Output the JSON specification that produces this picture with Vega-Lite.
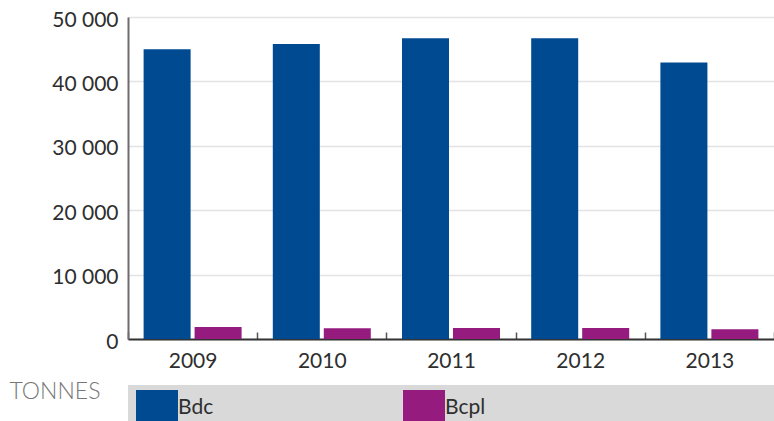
{
  "$schema": "https://vega.github.io/schema/vega-lite/v6.json",
  "padding": {"left": 8, "top": 8, "right": 0, "bottom": 0},
  "autosize": {"type": "pad"},
  "background": "white",
  "config": {
    "locale": {"number": {"decimal": ",", "thousands": " ", "grouping": [3], "currency": ["", " €"]}},
    "font": "Lato",
    "axis": {"labelFont": "Lato", "labelFontSize": 21, "labelFontWeight": 400, "labelColor": "#2e2e2e", "titleFont": "Lato"}
  },
  "bounds": "flush",
  "spacing": 46,
  "resolve": {"scale": {"x": "independent", "y": "independent", "color": "shared"}},
  "datasets": {
    "tonnes": [
      {"year": "2009", "series": "Bdc", "value": 45000},
      {"year": "2009", "series": "Bcpl", "value": 1850},
      {"year": "2010", "series": "Bdc", "value": 45800},
      {"year": "2010", "series": "Bcpl", "value": 1680},
      {"year": "2011", "series": "Bdc", "value": 46700},
      {"year": "2011", "series": "Bcpl", "value": 1700},
      {"year": "2012", "series": "Bdc", "value": 46700},
      {"year": "2012", "series": "Bcpl", "value": 1700},
      {"year": "2013", "series": "Bdc", "value": 42950},
      {"year": "2013", "series": "Bcpl", "value": 1520}
    ]
  },
  "vconcat": [
    {
      "width": 646,
      "height": 322,
      "data": {"name": "tonnes"},
      "mark": {"type": "bar"},
      "encoding": {
        "x": {
          "field": "year", "type": "ordinal",
          "scale": {"paddingInner": 0, "paddingOuter": 0},
          "axis": {
            "title": "TONNES", "titleX": -119, "titleY": 52, "titleAlign": "left", "titleBaseline": "middle", "titleAngle": 0,
            "titleFontSize": 23, "titleFontWeight": 300, "titleColor": "#777777",
            "labelAngle": 0, "labelPadding": 18, "domainColor": "#333333", "domainWidth": 2,
            "tickBand": "extent", "tickSize": -7, "tickColor": "#555555", "tickWidth": 1.5, "grid": false
          }
        },
        "xOffset": {"field": "series", "type": "nominal", "scale": {"domain": ["Bdc", "Bcpl"], "paddingInner": 0.078, "paddingOuter": 0.306}},
        "y": {
          "field": "value", "type": "quantitative", "stack": null,
          "scale": {"domain": [0, 50000], "nice": false},
          "axis": {
            "title": null, "values": [0, 10000, 20000, 30000, 40000, 50000], "format": ",d",
            "domainColor": "#6d6d6d", "domainWidth": 2, "ticks": false, "labelPadding": 10, "labelOffset": 3,
            "grid": true, "gridColor": "#e3e3e3", "gridWidth": 1.5
          }
        },
        "color": {"field": "series", "type": "nominal", "scale": {"domain": ["Bdc", "Bcpl"], "range": ["#004a91", "#961b7f"]}, "legend": null}
      }
    },
    {
      "width": 646,
      "height": 37,
      "view": {"fill": "#d9d9d9", "stroke": null},
      "data": {"name": "tonnes"},
      "transform": [{"aggregate": [{"op": "count", "as": "n"}], "groupby": ["series"]}],
      "encoding": {
        "x": {"field": "series", "type": "nominal", "scale": {"type": "point", "domain": ["Bdc", "Bcpl"], "padding": 0.7097, "align": 0}, "axis": null},
        "color": {"field": "series", "type": "nominal", "scale": {"domain": ["Bdc", "Bcpl"], "range": ["#004a91", "#961b7f"]}, "legend": null}
      },
      "layer": [
        {"mark": {"type": "square", "size": 1764, "opacity": 1, "filled": true, "xOffset": 29, "yOffset": 7.5, "clip": true}},
        {"mark": {"type": "text", "align": "left", "baseline": "middle", "xOffset": 50, "yOffset": 4, "fontSize": 21, "fontWeight": 400, "font": "Lato"},
         "encoding": {"text": {"field": "series"}, "color": {"value": "#2e2e2e"}}}
      ]
    }
  ]
}
